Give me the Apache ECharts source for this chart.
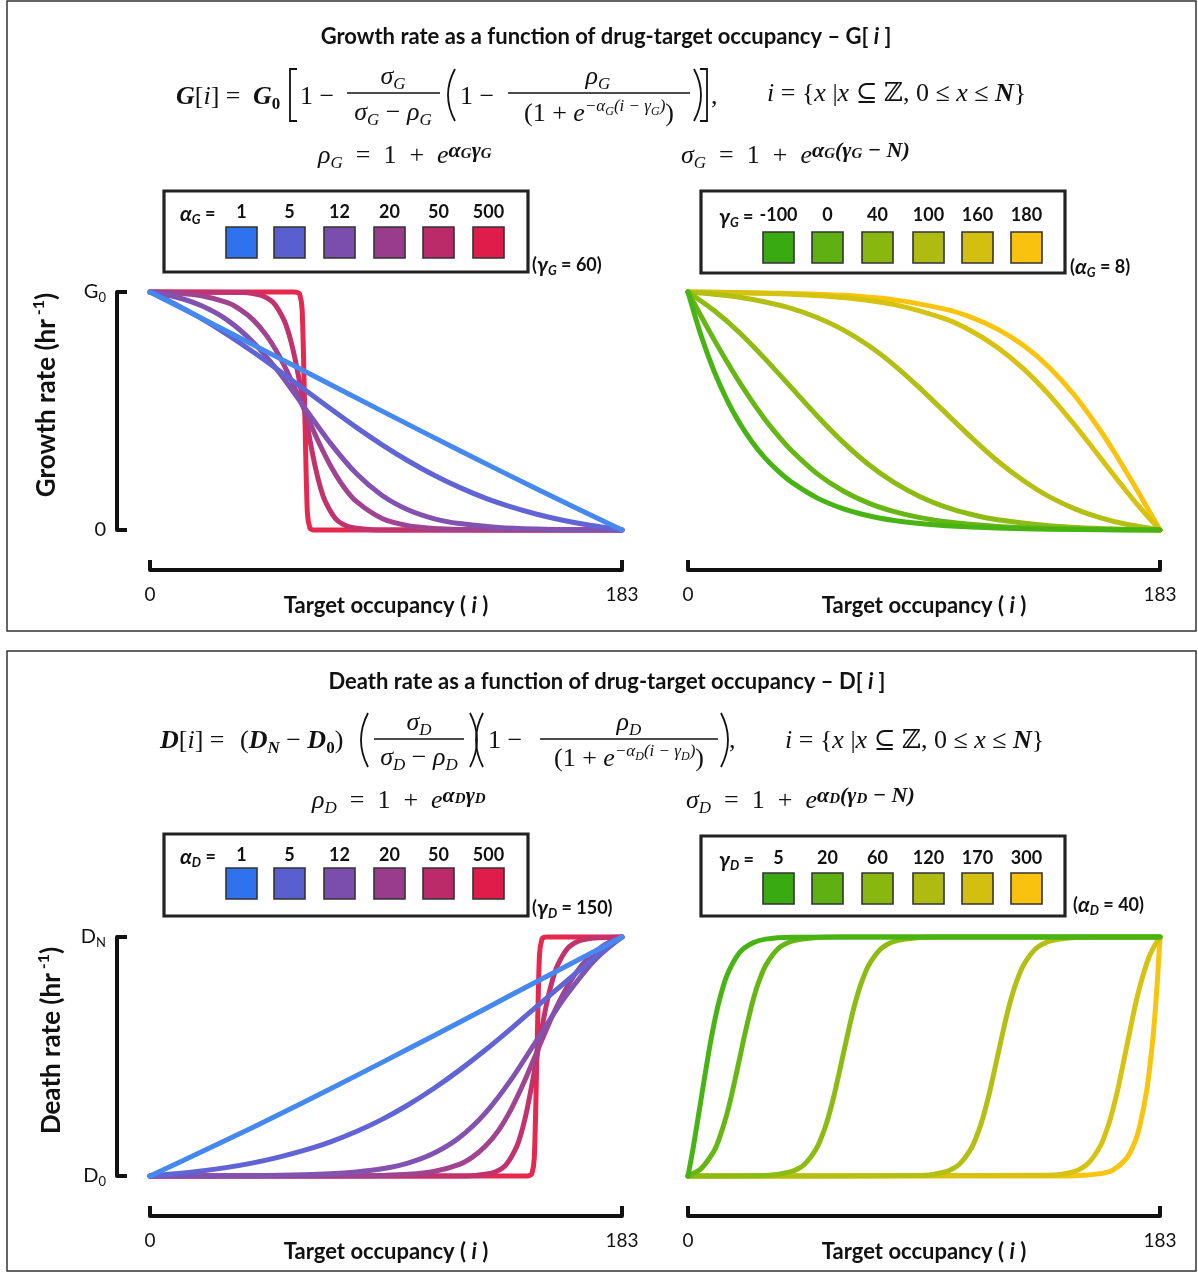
<!DOCTYPE html>
<html><head><meta charset="utf-8">
<script src="https://cdn.jsdelivr.net/npm/echarts@6/dist/echarts.min.js"></script>
<style>html,body{margin:0;padding:0;background:#fff}#c{width:1198px;height:1273px}</style>
</head><body><div id="c"></div>
<script>
// ---------- labels ----------
const alphaLabels = ['1','5','12','20','50','500'];
const gammaGLabels = ['-100','0','40','100','160','180'];
const gammaDLabels = ['5','20','60','120','170','300'];
const xTickLabels = ['0','183'];
const yTicksG = ['{n|0}','{n|G}{s|0}'];
const yTicksD = ['{n|D}{s|0}','{n|D}{s|N}'];

// ---------- growth rate vs alpha_G (gamma_G = 60) : [i, G/G0] ----------
const gAlpha1 = [[0,1],[30,0.834],[60,0.667],[90,0.4995],[120,0.334],[150,0.172],[183,0]];
const gAlpha5 = [[0,1],[10,0.948],[20,0.888],[30,0.821],[40,0.748],[50,0.670],[60,0.589],[70,0.509],[80,0.431],[90,0.358],[100,0.291],[110,0.231],[120,0.179],[130,0.134],[140,0.097],[150,0.066],[160,0.041],[170,0.021],[183,0]];
const gAlpha12 = [[0,1],[10,0.979],[20,0.942],[30,0.882],[40,0.789],[50,0.663],[60,0.513],[70,0.364],[80,0.237],[90,0.145],[100,0.085],[110,0.048],[120,0.027],[135,0.011],[150,0.004],[165,0.0013],[183,0]];
const gAlpha20 = [[0,1],[10,0.996],[20,0.984],[30,0.955],[35,0.926],[40,0.883],[45,0.820],[50,0.733],[55,0.624],[60,0.501],[65,0.378],[70,0.270],[75,0.183],[80,0.120],[90,0.048],[100,0.018],[110,0.0067],[120,0.0025],[140,0.0003],[183,0]];
const gAlpha50 = [[0,1],[36,0.998],[40,0.993],[44,0.982],[48,0.953],[52,0.881],[54,0.818],[56,0.731],[58,0.622],[60,0.5],[62,0.378],[64,0.269],[66,0.182],[68,0.119],[72,0.047],[76,0.018],[80,0.007],[86,0.0015],[100,0],[183,0]];
const gAlpha500 = [[0,1],[56,1],[57,0.998],[58,0.993],[59,0.924],[60,0.5],[61,0.076],[62,0.007],[63,0.001],[64,0],[183,0]];

// ---------- growth rate vs gamma_G (alpha_G = 8) ----------
const gGammaM100 = [[0,1],[5,0.819],[10,0.670],[15,0.549],[20,0.449],[25,0.368],[30,0.301],[35,0.247],[40,0.202],[50,0.135],[60,0.090],[70,0.060],[80,0.040],[90,0.027],[100,0.018],[120,0.008],[140,0.003],[160,0.001],[183,0]];
const gGamma0 = [[0,1],[5,0.900],[10,0.802],[15,0.709],[20,0.620],[25,0.538],[30,0.462],[35,0.395],[40,0.335],[50,0.237],[60,0.165],[70,0.113],[80,0.077],[90,0.052],[100,0.035],[120,0.015],[140,0.006],[160,0.002],[183,0]];
const gGamma40 = [[0,1],[10,0.923],[20,0.829],[30,0.718],[40,0.599],[50,0.480],[60,0.370],[70,0.275],[80,0.199],[90,0.140],[100,0.096],[110,0.065],[120,0.043],[140,0.018],[160,0.006],[183,0]];
const gGamma100 = [[0,1],[10,0.991],[20,0.978],[30,0.958],[40,0.931],[50,0.893],[60,0.842],[70,0.775],[80,0.692],[90,0.595],[100,0.491],[110,0.387],[120,0.290],[130,0.208],[140,0.140],[150,0.089],[160,0.051],[170,0.024],[183,0]];
const gGamma160 = [[0,1],[20,0.997],[40,0.991],[60,0.977],[80,0.947],[100,0.886],[110,0.835],[120,0.767],[130,0.678],[140,0.568],[150,0.440],[160,0.302],[165,0.232],[170,0.163],[175,0.097],[180,0.035],[183,0]];
const gGamma180 = [[0,1],[20,0.998],[40,0.994],[60,0.986],[80,0.967],[100,0.927],[110,0.893],[120,0.844],[130,0.776],[140,0.684],[150,0.564],[160,0.416],[165,0.332],[170,0.243],[175,0.151],[180,0.057],[183,0]];

// ---------- death rate vs alpha_D (gamma_D = 150) : [i, (D-D0)/(DN-D0)] ----------
const dAlpha1 = [[0,0],[20,0.101],[40,0.204],[60,0.311],[80,0.420],[100,0.531],[120,0.643],[140,0.757],[160,0.870],[183,1]];
const dAlpha5 = [[0,0],[10,0.009],[20,0.021],[30,0.036],[40,0.055],[50,0.079],[60,0.108],[70,0.143],[80,0.186],[90,0.237],[100,0.297],[110,0.366],[120,0.443],[130,0.527],[140,0.617],[150,0.710],[160,0.802],[170,0.892],[175,0.935],[183,1]];
const dAlpha12 = [[0,0],[40,0.001],[60,0.005],[70,0.009],[80,0.017],[90,0.030],[100,0.054],[110,0.095],[120,0.161],[130,0.263],[140,0.403],[150,0.569],[160,0.735],[170,0.874],[175,0.930],[180,0.976],[183,1]];
const dAlpha20 = [[0,0],[60,0],[80,0.001],[90,0.0025],[100,0.007],[110,0.019],[120,0.049],[125,0.079],[130,0.124],[135,0.189],[140,0.279],[145,0.392],[150,0.519],[155,0.646],[160,0.758],[165,0.848],[170,0.913],[175,0.958],[180,0.988],[183,1]];
const dAlpha50 = [[0,0],[120,0],[126,0.0025],[130,0.007],[134,0.018],[138,0.047],[142,0.119],[144,0.182],[146,0.269],[148,0.378],[150,0.5],[152,0.622],[154,0.731],[156,0.818],[158,0.881],[162,0.953],[166,0.982],[170,0.993],[176,0.998],[183,1]];
const dAlpha500 = [[0,0],[146,0],[147,0.002],[148,0.007],[149,0.076],[150,0.5],[151,0.924],[152,0.993],[153,0.999],[154,1],[183,1]];

// ---------- death rate vs gamma_D (alpha_D = 40) ----------
const dGamma5 = [[0,0],[2,0.117],[5,0.316],[8,0.515],[10,0.632],[12,0.729],[15,0.837],[20,0.935],[25,0.975],[30,0.991],[40,0.999],[60,1],[183,1]];
const dGamma20 = [[0,0],[5,0.030],[10,0.103],[12,0.153],[15,0.256],[17,0.343],[20,0.491],[22,0.591],[25,0.726],[27,0.799],[30,0.879],[35,0.952],[40,0.982],[50,0.998],[60,1],[183,1]];
const dGamma60 = [[0,0],[30,0.002],[40,0.018],[45,0.047],[50,0.119],[53,0.198],[55,0.269],[57,0.354],[60,0.5],[63,0.646],[65,0.731],[67,0.802],[70,0.881],[75,0.953],[80,0.982],[90,0.998],[100,1],[183,1]];
const dGamma120 = [[0,0],[90,0.002],[100,0.018],[105,0.047],[110,0.119],[113,0.198],[115,0.269],[117,0.354],[120,0.5],[123,0.646],[125,0.731],[127,0.802],[130,0.881],[135,0.953],[140,0.982],[150,0.998],[160,1],[183,1]];
const dGamma170 = [[0,0],[140,0.003],[150,0.019],[155,0.051],[160,0.128],[163,0.213],[165,0.289],[167,0.380],[170,0.537],[173,0.694],[175,0.785],[178,0.894],[180,0.946],[183,1]];
const dGamma300 = [[0,0],[140,0.0002],[150,0.0014],[160,0.010],[165,0.027],[170,0.074],[173,0.135],[175,0.202],[178,0.368],[180,0.549],[181,0.670],[182,0.819],[183,1]];

// ---------- colours ----------
const alphaLine = ['#4589ef','#6064d4','#8152b0','#a04390','#c2326c','#e6284f'];
const alphaSwatch = ['#2f72ee','#5a5fcf','#7b4dac','#9a3c8c','#bc2b69','#df1c4a'];
const gammaLine = ['#48b414','#66b614','#8cbc12','#b3bf12','#d6c210','#f8c40e'];
const gammaSwatch = ['#3aaa12','#5fb012','#88b80f','#afbb10','#d3bf10','#f8c20e'];

const SANS = "Lato, 'Open Sans', 'DejaVu Sans', sans-serif";
const SERIF = "'Liberation Serif', 'DejaVu Serif', serif";
const INK = '#111';

const chart = echarts.init(document.getElementById('c'), null, {renderer:'canvas'});

const grids = [
  {left:150, top:292, width:472, height:238},
  {left:688, top:292, width:472, height:238},
  {left:150, top:937, width:472, height:239},
  {left:688, top:937, width:472, height:239}
].map(g => Object.assign({outerBoundsMode:'none', containLabel:false}, g));

function xAx(gi){
  return {gridIndex:gi, type:'value', min:0, max:183, interval:183, offset:40,
    axisLine:{show:true, onZero:false, lineStyle:{color:INK, width:4}},
    axisTick:{show:true, inside:true, length:10, lineStyle:{color:INK, width:4}},
    axisLabel:{show:true, margin:15, fontFamily:SANS, fontSize:19, color:INK,
      formatter: v => v === 0 ? xTickLabels[0] : xTickLabels[1]},
    splitLine:{show:false},
    name:'{t|Target occupancy ( }{i|i}{t| )}', nameLocation:'middle', nameGap:25, nameMoveOverlap:false,
    nameTextStyle:{rich:{
      t:{fontFamily:SANS, fontWeight:'bold', fontSize:22, color:INK},
      i:{fontFamily:SANS, fontWeight:'bold', fontStyle:'italic', fontSize:22, color:INK}}}
  };
}
function yAx(gi, ticks, nameStart, gap){
  const ax = {gridIndex:gi, type:'value', min:0, max:1, interval:1, show: ticks !== null};
  if (ticks === null) return ax;
  return Object.assign(ax, {offset:33,
    axisLine:{show:true, onZero:false, lineStyle:{color:INK, width:4}},
    axisTick:{show:true, inside:true, length:10, lineStyle:{color:INK, width:4}},
    axisLabel:{show:true, margin:11, fontSize:20, fontFamily:SANS, color:INK, formatter: v => ticks[v],
      rich:{n:{fontFamily:SANS, fontSize:20, lineHeight:24, color:INK},
            s:{fontFamily:SANS, fontSize:13, lineHeight:13, verticalAlign:'bottom', color:INK}}},
    splitLine:{show:false},
    name:'{t|' + nameStart + ' (hr}{p| -1}{t|)}', nameLocation:'middle', nameRotate:90, nameGap:gap,
    nameTextStyle:{padding:[0,0,0,32], rich:{
      t:{fontFamily:SANS, fontWeight:'bold', fontSize:26, lineHeight:32, color:INK},
      p:{fontFamily:SANS, fontWeight:'bold', fontSize:16, lineHeight:16, verticalAlign:'top', color:INK}}}
  });
}

const plots = [
  {gi:0, curves:[gAlpha1,gAlpha5,gAlpha12,gAlpha20,gAlpha50,gAlpha500], colors:alphaLine, labels:alphaLabels, p:'α_G='},
  {gi:1, curves:[gGammaM100,gGamma0,gGamma40,gGamma100,gGamma160,gGamma180], colors:gammaLine, labels:gammaGLabels, p:'γ_G='},
  {gi:2, curves:[dAlpha1,dAlpha5,dAlpha12,dAlpha20,dAlpha50,dAlpha500], colors:alphaLine, labels:alphaLabels, p:'α_D='},
  {gi:3, curves:[dGamma5,dGamma20,dGamma60,dGamma120,dGamma170,dGamma300], colors:gammaLine, labels:gammaDLabels, p:'γ_D='}
];
const series = [];
plots.forEach(pl => {
  for (let k = pl.curves.length - 1; k >= 0; k--) {
    series.push({type:'line', name: pl.p + pl.labels[k], xAxisIndex:pl.gi, yAxisIndex:pl.gi,
      data: pl.curves[k], symbol:'none', showSymbol:false, smooth:0.25, clip:false,
      silent:true, animation:false,
      lineStyle:{width:5, color:pl.colors[k], cap:'round', join:'round'},
      itemStyle:{color:pl.colors[k]}, emphasis:{disabled:true}});
  }
});

// ---------- graphic text helpers ----------
const mathRich = {
  r:{fontFamily:SERIF, fontSize:26, lineHeight:32},
  v:{fontFamily:SERIF, fontSize:26, lineHeight:32, fontStyle:'italic'},
  b:{fontFamily:SERIF, fontSize:26, lineHeight:32, fontStyle:'italic', fontWeight:'bold'},
  s:{fontFamily:SERIF, fontSize:17, lineHeight:17, fontStyle:'italic', verticalAlign:'bottom'},
  sb:{fontFamily:SERIF, fontSize:17, lineHeight:17, fontStyle:'italic', fontWeight:'bold', verticalAlign:'bottom'},
  su:{fontFamily:SERIF, fontSize:17, lineHeight:17, fontWeight:'bold', verticalAlign:'bottom'},
  p:{fontFamily:SERIF, fontSize:17, lineHeight:14, fontStyle:'italic', verticalAlign:'top'},
  pb:{fontFamily:SERIF, fontSize:22, lineHeight:12, fontStyle:'italic', fontWeight:'bold', verticalAlign:'top'},
  q:{fontFamily:SERIF, fontSize:12, lineHeight:12, fontStyle:'italic', verticalAlign:'top', padding:[8,0,0,0]},
  qb:{fontFamily:SERIF, fontSize:15, lineHeight:15, fontStyle:'italic', fontWeight:'bold', verticalAlign:'top', padding:[7,0,0,0]}
};
const sansRich = {
  t:{fontFamily:SANS, fontWeight:'bold', fontSize:18, lineHeight:24},
  h:{fontFamily:SANS, fontWeight:'bold', fontSize:22, lineHeight:28},
  hi:{fontFamily:SANS, fontWeight:'bold', fontStyle:'italic', fontSize:22, lineHeight:28},
  g:{fontFamily:SANS, fontWeight:'bold', fontStyle:'italic', fontSize:21, lineHeight:24},
  s:{fontFamily:SANS, fontWeight:'bold', fontStyle:'italic', fontSize:13, lineHeight:13, verticalAlign:'bottom'}
};
function T(x, y, text, align, rich, font){
  return {type:'text', x:x, y:y, z:10, silent:true, style:{text:text, rich:rich || mathRich,
    font: font || ('26px ' + SERIF), fill:INK,
    align:align || 'left', textAlign:align || 'left', verticalAlign:'middle', textVerticalAlign:'middle'}};
}
function S(x, y, text, align){ return T(x, y, text, align, sansRich, 'bold 18px ' + SANS); }
function bar(x1, x2, y){ return {type:'line', z:10, silent:true, shape:{x1:x1, y1:y, x2:x2, y2:y}, style:{stroke:INK, lineWidth:1.4}}; }
function paren(x, y1, y2, dir){ // dir -1 for '(' , +1 for ')'
  return {type:'bezierCurve', z:10, silent:true, shape:{x1:x, y1:y1, x2:x, y2:y2, cpx1:x + dir*14, cpy1:(y1+y2)/2},
    style:{stroke:INK, lineWidth:1.8, fill:null}};
}
function brack(x, y1, y2, dir){ // dir -1 for '[' , +1 for ']'
  return {type:'polyline', z:10, silent:true, shape:{points:[[x - dir*7, y1],[x, y1],[x, y2],[x - dir*7, y2]]},
    style:{stroke:INK, lineWidth:1.8, fill:null}};
}
function swatchRow(lefts, y, colors){
  return lefts.map((lx, k) => ({type:'rect', z:10, silent:true, shape:{x:lx, y:y, width:31, height:31},
    style:{fill:colors[k], stroke:'#333', lineWidth:1.6}}));
}
function valueRow(lefts, y, labels){ return lefts.map((lx, k) => S(lx + 15.5, y, '{t|' + labels[k] + '}', 'center')); }
function box(x, y, w, h){ return {type:'rect', z:9, silent:true, shape:{x:x, y:y, width:w, height:h}, style:{fill:'#fff', stroke:'#222', lineWidth:3.2}}; }

const leftSw = [226, 274, 324, 374, 423, 473];
const rightSw = [763, 812, 862, 913, 962, 1011];

const setStr = '{v|i}{r| = {}{v|x}{r| |}{v|x}{r| ⊆ ℤ, 0 ≤ }{v|x}{r| ≤ }{b|N}}';
const EQ = '{r|\u2002=\u20021\u2002+\u2002}';

const graphics = [
  // panel frames
  {type:'rect', z:1, silent:true, shape:{x:7, y:1, width:1189, height:630}, style:{fill:null, stroke:'#333', lineWidth:1.5}},
  {type:'rect', z:1, silent:true, shape:{x:7, y:651, width:1189, height:620}, style:{fill:null, stroke:'#333', lineWidth:1.5}},

  // ---- top panel text ----
  T(606, 37, '{h|Growth rate as a function of drug-target occupancy – G[ }{hi|i}{h| ]}', 'center', sansRich, 'bold 22px ' + SANS),
  T(176, 97, '{b|G}{r|[}{v|i}{r|] = }'),
  T(253, 97, '{b|G}{su|0}'),
  brack(290, 69, 121, -1),
  T(300, 97, '{r|1 − }'),
  bar(347, 440, 93),
  T(393, 77, '{v|σ}{s|G}', 'center'),
  T(393, 113, '{v|σ}{s|G}{r| − }{v|ρ}{s|G}', 'center'),
  paren(455, 69, 121, -1),
  T(460, 97, '{r|1 − }'),
  bar(508, 690, 93),
  T(598, 77, '{v|ρ}{s|G}', 'center'),
  T(599, 114, '{r|(1 + }{v|e}{p|−α}{q|G}{p|(i − γ}{q|G}{p|)}{r|)}', 'center'),
  paren(694, 69, 121, 1),
  brack(707, 69, 121, 1),
  T(711, 97, '{r|,}'),
  T(767, 94, setStr),
  T(318, 156, '{v|ρ}{s|G}' + EQ + '{v|e}{pb|α}{qb|G}{pb|γ}{qb|G}'),
  T(681, 156, '{v|σ}{s|G}' + EQ + '{v|e}{pb|α}{qb|G}{pb|(γ}{qb|G}{pb| − N)}'),

  // ---- top legends ----
  box(164, 191, 364, 81),
  S(180, 214, '{g|α}{s|G}{t| =}'),
  ...valueRow(leftSw, 212, alphaLabels),
  ...swatchRow(leftSw, 227, alphaSwatch),
  S(532, 265, '{t|(}{g|γ}{s|G}{t| = 60)}'),

  box(701, 191, 364, 82),
  S(719, 217, '{g|γ}{s|G}{t| =}'),
  ...valueRow(rightSw, 215, gammaGLabels),
  ...swatchRow(rightSw, 232, gammaSwatch),
  S(1070, 267, '{t|(}{g|α}{s|G}{t| = 8)}'),

  // ---- bottom panel text ----
  T(607, 682, '{h|Death rate as a function of drug-target occupancy – D[ }{hi|i}{h| ]}', 'center', sansRich, 'bold 22px ' + SANS),
  T(160, 741, '{b|D}{r|[}{v|i}{r|] = }'),
  T(240, 741, '{r|(}{b|D}{sb|N}{r| − }{b|D}{su|0}{r|)}'),
  paren(368, 713, 767, -1),
  bar(374, 464, 739),
  T(419, 723, '{v|σ}{s|D}', 'center'),
  T(419, 758, '{v|σ}{s|D}{r| − }{v|ρ}{s|D}', 'center'),
  paren(470, 713, 767, 1),
  paren(483, 713, 767, -1),
  T(488, 741, '{r|1 − }'),
  bar(540, 718, 739),
  T(629, 723, '{v|ρ}{s|D}', 'center'),
  T(629, 759, '{r|(1 + }{v|e}{p|−α}{q|D}{p|(i − γ}{q|D}{p|)}{r|)}', 'center'),
  paren(721, 713, 767, 1),
  T(729, 741, '{r|,}'),
  T(785, 741, setStr),
  T(312, 801, '{v|ρ}{s|D}' + EQ + '{v|e}{pb|α}{qb|D}{pb|γ}{qb|D}'),
  T(686, 801, '{v|σ}{s|D}' + EQ + '{v|e}{pb|α}{qb|D}{pb|(γ}{qb|D}{pb| − N)}'),

  // ---- bottom legends ----
  box(164, 834, 364, 82),
  S(180, 857, '{g|α}{s|D}{t| =}'),
  ...valueRow(leftSw, 855, alphaLabels),
  ...swatchRow(leftSw, 868, alphaSwatch),
  S(532, 908, '{t|(}{g|γ}{s|D}{t| = 150)}'),

  box(701, 836, 364, 80),
  S(719, 860, '{g|γ}{s|D}{t| =}'),
  ...valueRow(rightSw, 858, gammaDLabels),
  ...swatchRow(rightSw, 873, gammaSwatch),
  S(1073, 905, '{t|(}{g|α}{s|D}{t| = 40)}')
];

chart.setOption({
  animation:false,
  backgroundColor:'#fff',
  grid: grids,
  xAxis: [xAx(0), xAx(1), xAx(2), xAx(3)],
  yAxis: [yAx(0, yTicksG, 'Growth rate', 54), yAx(1, null), yAx(2, yTicksD, 'Death rate', 49), yAx(3, null)],
  series: series,
  graphic: {elements: graphics}
});
</script>
</body></html>
